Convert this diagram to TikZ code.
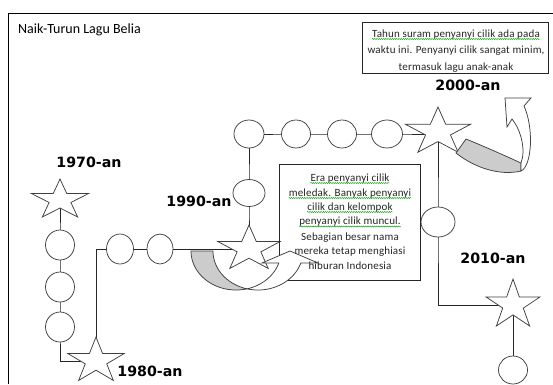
\documentclass[tikz,border=0pt]{standalone}
\usepackage{fontspec}
\setmainfont{Carlito}
\newfontfamily\labfont{DejaVu Sans}
\newfontfamily\notefam{Carlito}[LetterSpace=1.5]
\usetikzlibrary{shapes.geometric,decorations.pathmorphing,backgrounds}
\newlength\wspan
\newcommand\notefont{\notefam\fontsize{11}{13}\selectfont}
% star drawn as a polygon around a named centre coordinate
\newcommand\drawstarat[5]{%
  \coordinate (#1) at (#2,#3);
  \filldraw[starline, shift={(#2,#3)}, xscale=#5]
    (-90:#4) -- (-54:{#4/2.618}) -- (-18:#4) -- (18:{#4/2.618}) -- (54:#4)
    -- (90:{#4/2.618}) -- (126:#4) -- (162:{#4/2.618}) -- (198:#4) -- (234:{#4/2.618}) -- cycle;}
\begin{document}
\begin{tikzpicture}[x=1pt,y=-1pt,
 shp/.style={draw=black!75, fill=white, line width=0.75pt, inner sep=0pt},
 circ/.style={shp, ellipse},
 starline/.style={draw=black!75, fill=white, line width=0.75pt, line join=miter},
 conn/.style={draw=black!85, line width=0.75pt},
 yearlab/.style={font=\labfont\bfseries\fontsize{14.2}{16}\selectfont, inner sep=0pt},
 notebox/.style={draw=black!85, line width=0.75pt, inner sep=0pt},
 noteline/.style={font=\notefont, text=black!85, inner sep=0pt, anchor=base},
 squig/.style={draw=green!65!black, line width=0.45pt, decorate, decoration={snake, amplitude=0.55pt, segment length=2.2pt}},
 band/.style={draw=black!75, line width=0.75pt, fill=white},
 shade/.style={band, fill=gray!40}
]
\useasboundingbox (0,0) rectangle (553,384);

% title
\node[font=\fontsize{14}{16}\selectfont, anchor=base west, inner sep=0pt] (title) at (18,33) {Naik-Turun Lagu Belia};

% stars
\drawstarat{S70}{60}{200}{21}{1.43}
\drawstarat{S80}{96}{361}{24}{1.23}
\drawstarat{S90}{249}{249}{24}{1.36}
\drawstarat{S00}{438}{132}{25}{1.37}
\drawstarat{S10}{513}{305}{26}{1.09}

% circles
\node[circ, minimum width=29, minimum height=30] (c1) at (60,245) {};
\node[circ, minimum width=29, minimum height=30] (c2) at (60,287) {};
\node[circ, minimum width=29, minimum height=30] (c3) at (60,327) {};
\node[circ, minimum width=27, minimum height=30] (c4) at (120,249) {};
\node[circ, minimum width=26, minimum height=30] (c5) at (160,249) {};
\node[circ, minimum width=32, minimum height=27] (c6) at (249,193) {};
\node[circ, minimum width=30, minimum height=28] (c7) at (249,134) {};
\node[circ, minimum width=29, minimum height=28] (c8) at (296,134) {};
\node[circ, minimum width=29, minimum height=28] (c9) at (342,134) {};
\node[circ, minimum width=31, minimum height=28] (c10) at (387,134) {};
\node[circ, minimum width=34, minimum height=30] (c11) at (438,222) {};
\node[circ, minimum width=29, minimum height=28] (c12) at (513,370) {};

% connectors and frame
\begin{scope}[on background layer]
\fill[white] (0,0) rectangle (553,384);
\draw[line width=0.8pt] (8,384) -- (8,13) -- (553,13);
\draw[conn] (S70) -- (c1.center) -- (c2.center) -- (c3.center) |- (S80);
\draw[conn] (S80) |- (c4.center) -- (c5.center) -- (S90);
\draw[conn] (S90) -- (c6.center) -- (c7.center) -- (c8.center) -- (c9.center) -- (c10.center) -- (c10.center -| S00);
\draw[conn] (S00) -- (c11.center) |- (S10);
\draw[conn] (S10) -- (c12.center);
\end{scope}

% note boxes (borders)
\node[notebox, minimum width=141, minimum height=116] (B2) at (349.5,222) {};
\node[notebox, minimum width=186, minimum height=51] (B1) at (455,47.5) {};

% curved arrow at 1990
\path[shade] plot[domain=180:75.85, samples=40, variable=\t] ({236+45*cos(\t)},{251+39*sin(\t)})
  -- plot[domain=104.15:180, samples=40, variable=\t] ({258+45*cos(\t)},{251+39*sin(\t)}) -- cycle;
\path[band] plot[domain=104.15:17.9, samples=40, variable=\t] ({258+45*cos(\t)},{251+39*sin(\t)})
  -- (318,263) -- (290,251) -- (262,263)
  -- plot[domain=17.9:75.85, samples=40, variable=\t] ({236+45*cos(\t)},{251+39*sin(\t)}) -- cycle;

% curved arrow at 2000
\path[shade] (466,139) .. controls (488,148) and (510,158) .. (521,163) -- (521,171)
  .. controls (500,176) and (475,168) .. (456,153) -- cycle;
\path[band] (521,171) .. controls (532,166) and (534,128) .. (524,106) -- (531,98) -- (505,98)
  -- (507,127) -- (512,119) .. controls (521,130) and (526,150) .. (521,163) -- cycle;

% note texts
\node[noteline] (m1) at (456,37) {Tahun suram penyanyi cilik ada pada};
\node[noteline] (m2) at (456,53.5) {waktu ini. Penyanyi cilik sangat minim,};
\node[noteline] (m3) at (456,70) {termasuk lagu anak-anak};
\draw[squig] ([yshift=-2pt]m1.base west) -- ([yshift=-2pt]m1.base east);
\settowidth{\wspan}{\notefont waktu ini.}
\draw[squig] ([yshift=-2pt]m2.base west) -- ([yshift=-2pt,xshift=\wspan]m2.base west);

\node[noteline] (l1) at (350,181) {Era penyanyi cilik};
\node[noteline] (l2) at (350,196) {meledak. Banyak penyanyi};
\node[noteline] (l3) at (350,210) {cilik dan kelompok};
\node[noteline] (l4) at (350,224.5) {penyanyi cilik muncul.};
\node[noteline] (l5) at (350,240) {Sebagian besar nama};
\node[noteline] (l6) at (350,254.5) {mereka tetap menghiasi};
\node[noteline] (l7) at (350,269.5) {hiburan Indonesia};
\foreach \n in {l1,l2,l3,l4}{
  \draw[squig] ([yshift=-2pt]\n.base west) -- ([yshift=-2pt]\n.base east);
}
\settowidth{\wspan}{\notefont nama}
\draw[squig] ([yshift=-2pt,xshift=-\wspan]l5.base east) -- ([yshift=-2pt]l5.base east);

% year labels
\node[yearlab] (L70) at (89,162) {1970-an};
\node[yearlab] (L80) at (150,371) {1980-an};
\node[yearlab] (L90) at (199,201) {1990-an};
\node[yearlab] (L00) at (468,85) {2000-an};
\node[yearlab] (L10) at (493,258) {2010-an};
\end{tikzpicture}
\end{document}
